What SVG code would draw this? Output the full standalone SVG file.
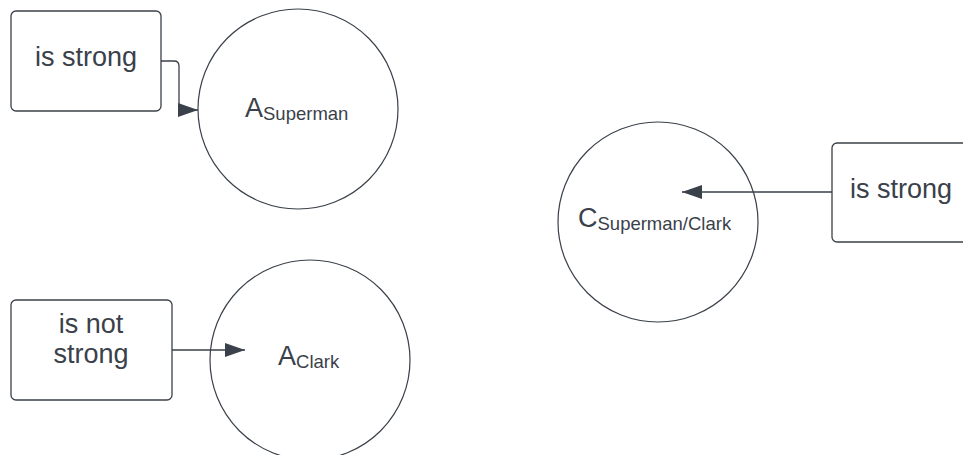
<svg xmlns="http://www.w3.org/2000/svg" width="963" height="455" viewBox="0 0 963 455">
<style>
.box{fill:#fff;stroke:#3a414a;stroke-width:1.3}
.circ{fill:#fff;stroke:#3a414a;stroke-width:1.2}
.t{font-family:"Liberation Sans",Arial,sans-serif;font-size:27px;fill:#3a414a}
.sub{font-size:18.5px}
.conn{fill:none;stroke:#3a414a;stroke-width:1.3}
</style>
<defs>
<marker id="arr" viewBox="0 0 20 14" refX="20" refY="7" markerWidth="20" markerHeight="14" markerUnits="userSpaceOnUse" orient="auto">
<path d="M0 0 L20 7 L0 14 Z" fill="#3a414a"/>
</marker>
</defs>
<g id="box1"><rect class="box" x="11" y="11" width="150" height="100" rx="5"/><text class="t" x="86" y="66" text-anchor="middle">is strong</text></g>
<g id="circleA1"><circle class="circ" cx="298" cy="109" r="100"/><text class="t" x="245" y="117">A<tspan class="sub" dy="3">Superman</tspan></text></g>
<g id="box2"><rect class="box" x="11" y="300" width="161" height="100" rx="5"/><text class="t" x="91" y="333" text-anchor="middle">is not</text><text class="t" x="91" y="363" text-anchor="middle">strong</text></g>
<g id="circleA2"><circle class="circ" cx="310" cy="360" r="100"/><text class="t" x="278" y="365">A<tspan class="sub" dy="3">Clark</tspan></text></g>
<g id="circleC"><circle class="circ" cx="658" cy="222" r="100"/><text class="t" x="578" y="227">C<tspan class="sub" dy="3">Superman/Clark</tspan></text></g>
<g id="box3"><rect class="box" x="832" y="143" width="150" height="99" rx="5"/><text class="t" x="850" y="198">is strong</text></g>
<g id="connectors">
<path class="conn" d="M161 61 H174 Q179 61 179 66 V110 H198" marker-end="url(#arr)"/>
<path class="conn" d="M172 350 H245" marker-end="url(#arr)"/>
<path class="conn" d="M832 192 H682" marker-end="url(#arr)"/>
</g>
</svg>
